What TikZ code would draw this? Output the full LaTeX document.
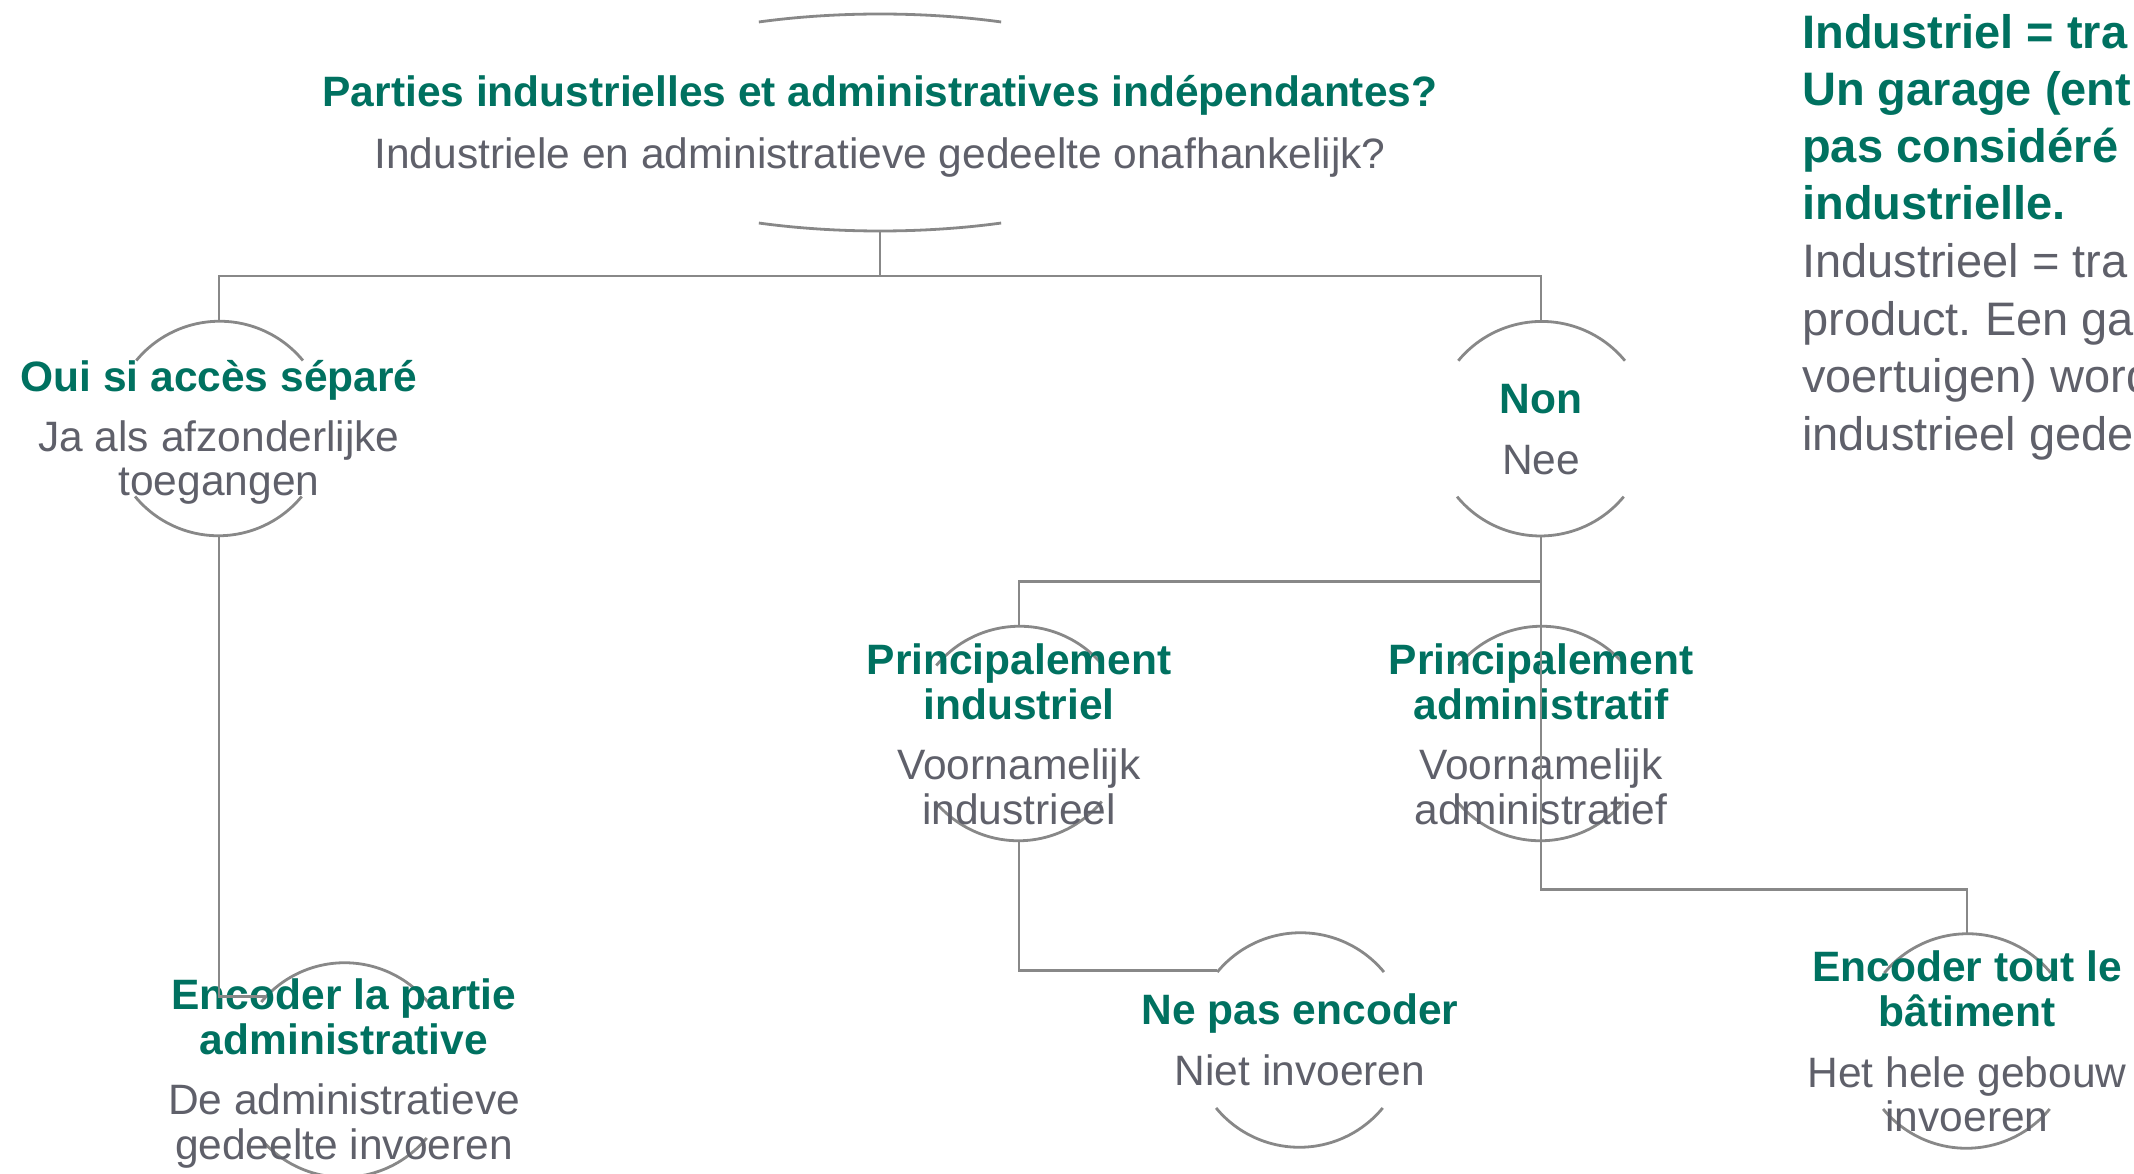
\documentclass[tikz,border=0pt]{standalone}
\usepackage{fontspec}
\setmainfont{Liberation Sans}
\usetikzlibrary{shapes.geometric}
\definecolor{grn}{RGB}{0,113,96}
\definecolor{txg}{RGB}{95,96,106}
\definecolor{lng}{RGB}{136,136,136}
\newcommand\rimarcs[1]{%
  \draw[rim] (#1.39.5) arc[start angle=39.5,end angle=140.5,radius=108];
  \draw[rim] (#1.219.5) arc[start angle=219.5,end angle=320.5,radius=108];}
\frenchspacing
\begin{document}
\begin{tikzpicture}[x=1pt,y=1pt,
  conn/.style={draw=lng, line width=2.6pt},
  rim/.style={draw=lng, line width=2.8pt},
  hd/.style={text=grn, font=\fontsize{42.5}{45}\selectfont\bfseries, align=center, inner sep=0pt, anchor=base},
  bd/.style={text=txg, font=\fontsize{42.5}{44.5}\selectfont, align=center, inner sep=0pt, anchor=base},
  nhd/.style={text=grn, font=\fontsize{47}{57}\selectfont\bfseries, inner sep=0pt, anchor=base west},
  nbd/.style={text=txg, font=\fontsize{47}{57}\selectfont, inner sep=0pt, anchor=base west},
  ring/.style={circle, minimum size=216pt, inner sep=0pt, outer sep=0pt}]
\useasboundingbox (0,0) rectangle (2134,-1174);
\clip (0,0) rectangle (2134,-1174);
% shapes
\node[ellipse, minimum width=644pt, minimum height=217pt, inner sep=0pt, outer sep=0pt] (top) at (880,-122.5) {};
\node[ring] (oui) at (219,-428.5) {};
\node[ring] (non) at (1541,-428.7) {};
\node[ring] (pind) at (1019,-733.5) {};
\node[ring] (padm) at (1541,-733.5) {};
\node[ring] (encA) at (344,-1070) {};
\node[ring] (nope) at (1300,-1040) {};
\node[ring] (encT) at (1967,-1041) {};
% rims
\draw[rim] (top.center) ++(67.9:322 and 108.5) arc[start angle=67.9,end angle=112.1,x radius=322,y radius=108.5];
\draw[rim] (top.center) ++(247.9:322 and 108.5) arc[start angle=247.9,end angle=292.1,x radius=322,y radius=108.5];
\rimarcs{oui}
\rimarcs{non}
\rimarcs{pind}
\rimarcs{padm}
\rimarcs{encA}
\rimarcs{nope}
\rimarcs{encT}
% texts (multi-line nodes: base = last line's baseline)
\node[hd] (topH) at (880,-106.5) {Parties industrielles et administratives indépendantes?};
\node[bd] (topB) at (880,-168.5) {Industriele en administratieve gedeelte onafhankelijk?};
\node[hd] (ouiH) at (219,-391) {Oui si accès séparé};
\node[bd] (ouiB) at (219,-495.5) {Ja als afzonderlijke\\toegangen};
\node[hd] (nonH) at (1541,-413) {Non};
\node[bd] (nonB) at (1541,-474) {Nee};
\node[hd] (pindH) at (1019,-719) {Principalement\\industriel};
\node[bd] (pindB) at (1019,-824) {Voornamelijk\\industrieel};
\node[hd] (padmH) at (1541,-719) {Principalement\\administratif};
\node[bd] (padmB) at (1541,-824) {Voornamelijk\\administratief};
\node[hd] (encAH) at (344,-1054) {Encoder la partie\\administrative};
\node[bd] (encAB) at (344,-1159) {De administratieve\\gedeelte invoeren};
\node[hd] (nopeH) at (1300,-1024) {Ne pas encoder};
\node[bd] (nopeB) at (1300,-1085) {Niet invoeren};
\node[hd] (encTH) at (1967,-1026) {Encoder tout le\\bâtiment};
\node[bd] (encTB) at (1967,-1131.5) {Het hele gebouw\\invoeren};
% side note
\node[nhd] (n1) at (1802,-49) {Industriel = tra};
\node[nhd] (n2) at (1802,-106) {Un garage (ent};
\node[nhd] (n3) at (1802,-163) {pas considéré};
\node[nhd] (n4) at (1802,-220) {industrielle.};
\node[nbd] (n5) at (1802,-278) {Industrieel = tra};
\node[nbd] (n6) at (1802,-335) {product. Een ga};
\node[nbd] (n7) at (1802,-392) {voertuigen) word};
\node[nbd] (n8) at (1802,-450) {industrieel gede};
% connectors
\draw[conn] (top.south) -- ++(0,-45);
\draw[conn] (oui.north) -- ++(0,44.5) -| (non.north);
\draw[conn] (non.south) -- ++(0,-45) -| (pind.north);
\draw[conn] (non.south) -- ++(0,-353) -| (encT.north);
\draw[conn] (pind.south) |- (nope.140.1);
\draw[conn] (oui.south) |- (encA.137.3);
\end{tikzpicture}
\end{document}
